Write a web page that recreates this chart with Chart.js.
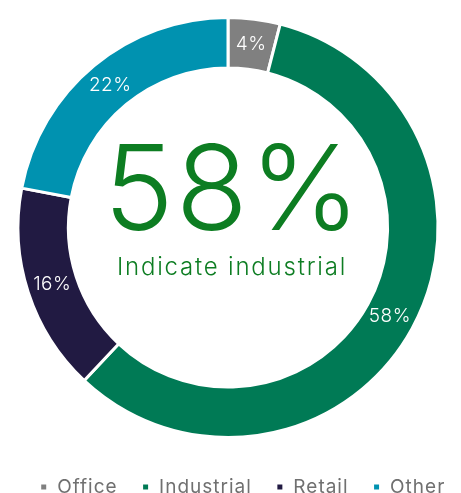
<!DOCTYPE html>
<html>
<head>
<meta charset="utf-8">
<script src="https://cdn.jsdelivr.net/npm/chart.js@4"></script>
<style>
  html, body { margin: 0; padding: 0; background: #fff; }
  #wrap { width: 461px; height: 493px; }
</style>
</head>
<body>
<div id="wrap"><canvas id="sectorChart"></canvas></div>
<script>
const sectors = ['Office', 'Industrial', 'Retail', 'Other'];
const shares = [4, 58, 16, 22];
const sectorColors = ['#808080', '#007a55', '#211a42', '#0092b0'];
const headline = '58%';
const headlineNote = 'Indicate industrial';

// slightly wider tracking for the legend text, and nudge the legend row right
const legendTweak = {
    id: 'legendTweak',
    beforeUpdate(chart) { chart.ctx.letterSpacing = '1px'; },
    afterLayout(chart) {
        chart.legend.left += 6;
        chart.legend.right += 23;
    },
    beforeDraw(chart) { chart.ctx.letterSpacing = '1px'; }
};

// percentage labels sitting in the middle of each ring segment
const sliceLabels = {
    id: 'sliceLabels',
    afterDatasetsDraw(chart) {
        const ctx = chart.ctx;
        const meta = chart.getDatasetMeta(0);
        ctx.save();
        ctx.letterSpacing = '0.5px';
        ctx.fillStyle = '#fff';
        ctx.font = '300 19px Inter';
        ctx.textAlign = 'center';
        ctx.textBaseline = 'middle';
        meta.data.forEach((arc, i) => {
            const pos = arc.tooltipPosition();
            ctx.fillText(shares[i] + '%', pos.x, pos.y);
        });
        ctx.restore();
    }
};

// big figure in the hole of the doughnut
const centerText = {
    id: 'centerText',
    afterDraw(chart) {
        const ctx = chart.ctx;
        const arc = chart.getDatasetMeta(0).data[0];
        const cx = arc.x, cy = arc.y;
        ctx.save();
        ctx.fillStyle = '#0d7d22';
        ctx.textAlign = 'center';
        ctx.textBaseline = 'alphabetic';
        ctx.letterSpacing = '2px';
        ctx.font = '300 118px Inter';
        ctx.fillText(headline, cx + 5, cy + 2);
        ctx.letterSpacing = '1.8px';
        ctx.font = '300 24px Inter';
        ctx.fillText(headlineNote, cx + 4, cy + 47);
        ctx.restore();
    }
};

const ctx = document.getElementById('sectorChart').getContext('2d');
new Chart(ctx, {
    type: 'doughnut',
    data: {
        labels: sectors,
        datasets: [{
            data: shares,
            backgroundColor: sectorColors,
            borderColor: '#fff',
            borderWidth: 3,
            hoverOffset: 0,
            offset: 0
        }]
    },
    options: {
        responsive: true,
        maintainAspectRatio: false,
        animation: false,
        cutout: '76%',
        layout: { padding: { top: 16, left: 0, right: 5, bottom: 0 } },
        plugins: {
            tooltip: { enabled: false },
            legend: {
                position: 'bottom',
                maxHeight: 54,
                title: { display: true, text: ' ', font: { size: 12 }, padding: { top: 0, bottom: 0 } },
                labels: {
                    boxWidth: 8,
                    boxHeight: 8,
                    padding: 24,
                    color: '#707070',
                    font: { family: 'Inter', size: 19, weight: 400 }
                }
            }
        }
    },
    plugins: [legendTweak, sliceLabels, centerText]
});
</script>
</body>
</html>
